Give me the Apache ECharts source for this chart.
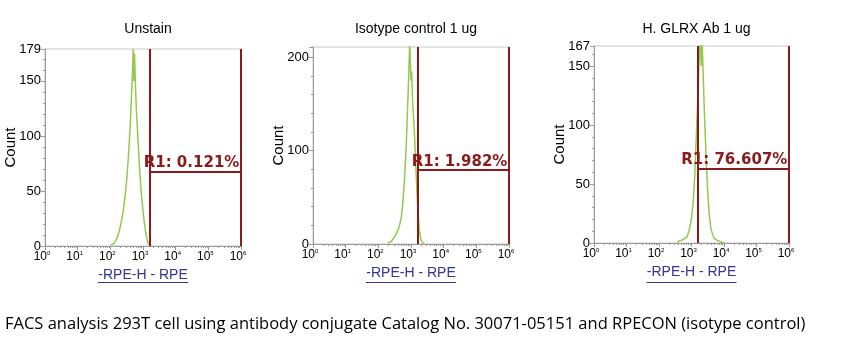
<!DOCTYPE html>
<html><head><meta charset="utf-8">
<script src="https://cdn.jsdelivr.net/npm/echarts@6/dist/echarts.min.js"></script>
<style>html,body{margin:0;padding:0;background:#fff;}#c{width:861px;height:356px;}</style>
</head><body><div id="c"></div>
<script>
// ---- data (x in decades: log10 of RPE-H channel; y = count) ----
const panelTitles = ['Unstain', 'Isotype control 1 ug', 'H. GLRX Ab 1 ug'];
const gateLabels = ['R1: 0.121%', 'R1: 1.982%', 'R1: 76.607%'];
const yMax = [179, 211, 167];
const yInterval = [50, 100, 50];
const yTickLabels = [[0, 50, 100, 150, 179], [0, 100, 200], [0, 50, 100, 150, 167]];
const xDecades = [0, 1, 2, 3, 4, 5, 6];
const minorMultipliers = [2, 3, 4, 5, 6, 7, 8, 9];
const gateLeft = [3.21, 3.20, 3.19];
const gateRight = [5.98, 5.98, 5.98];
const gateHeight = [67.5, 79, 63];

const unstainX = [2.00,2.05,2.10,2.15,2.20,2.25,2.30,2.35,2.40,2.45,2.50,2.55,2.60,2.65,2.68,2.70,2.72,2.74,2.77,2.80,2.85,2.90,2.95,3.00,3.05,3.10,3.15,3.20,3.25];
const unstainY = [1,2,2,4,7,11,17,24,33,45,60,80,104,138,160,179,150,175,145,122,95,68,47,32,19,9,3,1,0];

const isotypeX = [2.30,2.40,2.45,2.50,2.55,2.60,2.65,2.70,2.75,2.80,2.85,2.90,2.93,2.96,2.98,3.00,3.02,3.05,3.10,3.15,3.20,3.25,3.30,3.35,3.40];
const isotypeY = [1,3,5,8,11,15,20,28,44,68,102,150,180,215,215,175,185,152,122,82,42,16,5,2,0];

const glrxX = [2.55,2.65,2.75,2.85,2.90,2.95,3.00,3.05,3.10,3.15,3.20,3.24,3.27,3.30,3.33,3.36,3.40,3.45,3.50,3.55,3.60,3.65,3.70,3.80,3.90,4.00];
const glrxY = [1,2,3,5,8,13,21,34,57,92,127,160,170,150,170,142,108,72,42,23,12,7,4,2,1,0];

const histX = [unstainX, isotypeX, glrxX];
const histY = [unstainY, isotypeY, glrxY];

// ---- layout ----
const grids = [
  {left: 45, top: 49, width: 196, height: 197},
  {left: 313, top: 47, width: 196, height: 197},
  {left: 594, top: 46, width: 195, height: 197}
];
const gateColor = '#8b1a1a';
const histColor = '#93c94f';
const axisGray = '#9a9a9a';

const minorVals = [];
xDecades.slice(0, -1).forEach(d => minorMultipliers.forEach(m => minorVals.push(d + Math.log10(m))));

const chart = echarts.init(document.getElementById('c'));
const option = {
  backgroundColor: '#fff',
  animation: false,
  title: panelTitles.map((t, i) => ({
    text: t, left: grids[i].left + grids[i].width / 2, top: 17, textAlign: 'center',
    textStyle: {fontFamily: 'Liberation Sans', fontSize: 14, fontWeight: 'normal', color: '#000'}
  })),
  grid: grids.map(g => Object.assign({show: true, borderColor: '#c8c8c8', borderWidth: 1, containLabel: false}, g)),
  xAxis: [
    ...grids.map((g, i) => ({
      type: 'value', gridIndex: i, min: 0, max: 6, interval: 1,
      splitLine: {show: false},
      axisLine: {lineStyle: {color: axisGray}},
      axisTick: {length: 4, lineStyle: {color: axisGray}},
      axisLabel: {
        margin: 4, color: '#000',
        formatter: v => '{a|10}{b|' + v + '}',
        rich: {
          a: {fontFamily: 'Liberation Sans', fontSize: 12, color: '#000'},
          b: {fontFamily: 'Liberation Sans', fontSize: 6, color: '#000', verticalAlign: 'top', padding: [0, 6, 8, 0]}
        }
      },
      name: '-RPE-H - RPE', nameLocation: 'middle', nameGap: 21,
      nameTextStyle: {fontFamily: 'Liberation Sans', fontSize: 14, color: '#333399'}
    })),
    ...grids.map((g, i) => ({
      type: 'value', gridIndex: i, min: 0, max: 6, position: 'bottom',
      splitLine: {show: false},
      axisLine: {show: false},
      axisLabel: {show: false},
      axisTick: {show: true, length: 2, customValues: minorVals, lineStyle: {color: axisGray}}
    }))
  ],
  yAxis: grids.map((g, i) => ({
    type: 'value', gridIndex: i, min: 0, max: yMax[i], interval: yInterval[i],
    splitLine: {show: false},
    axisLine: {show: true, lineStyle: {color: axisGray}},
    axisTick: {show: true, length: 4, lineStyle: {color: axisGray}},
    minorTick: {show: true, splitNumber: 5, length: 2, lineStyle: {color: axisGray}},
    axisLabel: {customValues: yTickLabels[i], margin: 4, fontFamily: 'Liberation Sans', fontSize: 13, color: '#000'},
    name: 'Count', nameLocation: 'middle', nameGap: 27, nameMoveOverlap: false,
    nameTextStyle: {fontFamily: 'Liberation Sans', fontSize: 15, color: '#000'}
  })),
  series: grids.map((g, i) => ({
    type: 'line', xAxisIndex: i, yAxisIndex: i,
    data: histX[i].map((x, k) => [x, histY[i][k]]),
    symbol: 'none', smooth: false, clip: true,
    lineStyle: {color: histColor, width: 1.5},
    z: 2,
    markLine: {
      silent: true, symbol: 'none', animation: false,
      lineStyle: {color: gateColor, width: 2, type: 'solid'},
      label: {show: false},
      data: [
        {xAxis: gateLeft[i]},
        {xAxis: gateRight[i]},
        [
          {coord: [gateLeft[i], gateHeight[i]]},
          {coord: [gateRight[i], gateHeight[i]],
           label: {show: true, position: 'insideEndTop', distance: 1, formatter: gateLabels[i],
                   fontFamily: 'DejaVu Sans', fontWeight: 'bold', fontSize: 15, color: gateColor}}
        ]
      ]
    }
  })),
  graphic: [
    ...grids.map(g => ({
      type: 'line', silent: true,
      shape: {x1: g.left + g.width / 2 - 45, y1: 282.5, x2: g.left + g.width / 2 + 45, y2: 282.5},
      style: {stroke: '#333399', lineWidth: 1}
    })),
    {
      type: 'text', left: 5, top: 316, silent: true,
      style: {text: 'FACS analysis 293T cell using antibody conjugate Catalog No. 30071-05151 and RPECON (isotype control)',
              fontFamily: 'Open Sans', fontSize: 16.5, fill: '#000'}
    }
  ]
};
chart.setOption(option);
</script></body></html>
